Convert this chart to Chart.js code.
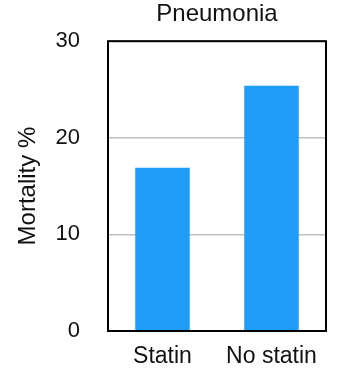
<!DOCTYPE html>
<html>
<head>
<meta charset="utf-8">
<script src="https://cdn.jsdelivr.net/npm/chart.js@4"></script>
<style>
html,body{margin:0;padding:0;background:#fff;}
#wrap{width:347px;height:375px;}
</style>
</head>
<body>
<div id="wrap"><canvas id="c" width="347" height="375"></canvas></div>
<script>
const categories = ['Statin', 'No statin'];
const mortality = [16.9, 25.4];
const yTicks = [0, 10, 20, 30];
const chartTitle = 'Pneumonia';
const yTitle = 'Mortality %';

const FONT = '"Liberation Sans", Arial, Helvetica, sans-serif';

const framePlugin = {
  id: 'frame',
  afterDatasetsDraw(chart) {
    const a = chart.chartArea, ctx = chart.ctx;
    ctx.save();
    ctx.strokeStyle = '#000';
    ctx.lineWidth = 2;
    ctx.strokeRect(a.left, a.top, a.right - a.left, a.bottom - a.top);
    ctx.restore();
  }
};

new Chart(document.getElementById('c'), {
  type: 'bar',
  data: {
    labels: categories,
    datasets: [{
      data: mortality,
      backgroundColor: '#1f9cf6',
      borderWidth: 0,
      barPercentage: 0.5,
      categoryPercentage: 1.0
    }]
  },
  options: {
    responsive: false,
    animation: false,
    devicePixelRatio: 1,
    layout: { padding: { left: 0, right: 21, top: 0, bottom: 0 } },
    plugins: {
      legend: { display: false },
      tooltip: { enabled: false },
      title: { display: false }
    },
    scales: {
      x: {
        grid: { display: false, drawTicks: false },
        border: { display: false },
        ticks: { color: '#111', font: { family: FONT, size: 23 }, padding: 12 },
        afterFit(s) { s.height = 44; }
      },
      xTop: {
        type: 'category',
        position: 'top',
        labels: categories,
        grid: { display: false, drawTicks: false },
        border: { display: false },
        ticks: { display: false },
        title: {
          display: true,
          text: chartTitle,
          color: '#111',
          font: { family: FONT, size: 24 },
          padding: { top: 0, bottom: 0 }
        },
        afterFit(s) { s.height = 41; }
      },
      y: {
        min: 0, max: 30,
        afterBuildTicks(s) { s.ticks = yTicks.map(v => ({ value: v })); },
        grid: { color: '#c0c0c0', lineWidth: 1.5, drawTicks: false },
        border: { display: false },
        ticks: { color: '#111', font: { family: FONT, size: 22 }, padding: 28 },
        title: {
          display: true,
          text: yTitle,
          color: '#111',
          font: { family: FONT, size: 24 },
          padding: { top: 14, bottom: 0 }
        },
        afterFit(s) { s.width = 108; }
      }
    }
  },
  plugins: [framePlugin]
});
</script>
</body>
</html>
